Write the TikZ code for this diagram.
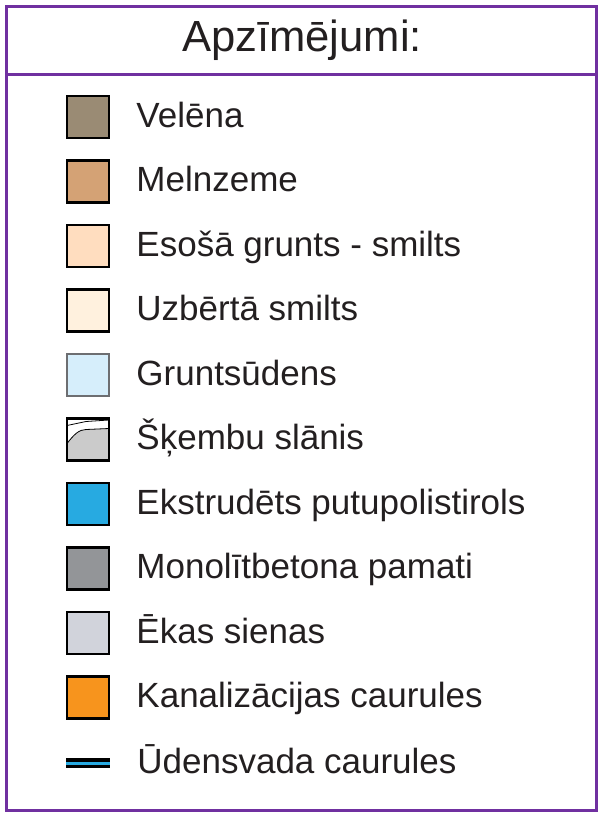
\documentclass[tikz,border=0pt]{standalone}
\usepackage{fontspec}
\setmainfont{Liberation Sans}
\usetikzlibrary{positioning}
\definecolor{framepurple}{HTML}{7030A0}
\definecolor{inkblack}{HTML}{231F20}
\definecolor{velenabrown}{HTML}{9A8B74}
\definecolor{melnzemebrown}{HTML}{D4A275}
\definecolor{gruntspeach}{HTML}{FFDDBF}
\definecolor{smiltscream}{HTML}{FFF1DE}
\definecolor{udenslight}{HTML}{D6EEFB}
\definecolor{udensedge}{HTML}{6D6E71}
\definecolor{skembugray}{HTML}{CBCBCB}
\definecolor{eppsblue}{HTML}{27AAE1}
\definecolor{betonsgray}{HTML}{939598}
\definecolor{sienasgray}{HTML}{D1D3DB}
\definecolor{kanalorange}{HTML}{F7941D}
\definecolor{pipeblue}{HTML}{27AAE1}

\begin{document}
\begin{tikzpicture}[
    x=1pt, y=-1pt,
    every node/.style={text=inkblack},
    swatch/.style={
        fill=#1, draw=black, line width=2.5pt,
        minimum size=42pt, inner sep=0pt
    },
    lbl/.style={
        font=\fontsize{35}{42}\selectfont,
        inner sep=0pt, anchor=base west
    },
    heading/.style={
        font=\fontsize{43.6}{50}\selectfont,
        inner sep=0pt, anchor=base
    },
    frame/.style={draw=framepurple, line width=3pt},
    pipe/.style={
        fill=black, minimum width=44pt, minimum height=10pt,
        inner sep=0pt
    },
]
\useasboundingbox (0,0) rectangle (600,816);

% Frame and title
\coordinate (frameTL) at (6.5,6.5);
\coordinate (frameBR) at (596.5,810);
\coordinate (sepL) at (6.5,74);
\coordinate (sepR) at (596.5,74);
\draw[frame] (frameTL) rectangle (frameBR);
\draw[frame] (sepL) -- (sepR);
\node[heading] (title) at (302,52) {Apzīmējumi:};

% Swatches
\node[swatch=velenabrown] (velena) at (88,117) {};
\node[swatch=melnzemebrown, below=20pt of velena] (melnzeme) {};
\node[swatch=gruntspeach, below=20pt of melnzeme] (grunts) {};
\node[swatch=smiltscream, below=20pt of grunts] (smilts) {};
\node[swatch=udenslight, draw=udensedge, below=20pt of smilts] (udens) {};
\node[swatch=white, below=20pt of udens,
    path picture={
        \fill[skembugray, draw=black, line width=0.8pt]
            ([yshift=-25pt]path picture bounding box.north west)
            .. controls +(7pt,9pt) and +(-7pt,0pt) ..
            ([xshift=19pt,yshift=-11pt]path picture bounding box.north west)
            -- ([yshift=-10pt]path picture bounding box.north east)
            -- (path picture bounding box.south east)
            -- (path picture bounding box.south west) -- cycle;
        \draw[line width=0.8pt]
            ([yshift=-7pt]path picture bounding box.north west)
            -- ([xshift=19pt,yshift=-3pt]path picture bounding box.north west)
            -- ([yshift=-1.5pt]path picture bounding box.north east);
    }] (skembas) {};
\node[swatch=eppsblue, below=20pt of skembas] (epps) {};
\node[swatch=betonsgray, below=20pt of epps] (betons) {};
\node[swatch=sienasgray, below=20pt of betons] (sienas) {};
\node[swatch=kanalorange, below=20pt of sienas] (kanal) {};
\node[pipe, below=38.5pt of kanal] (udensvads) {};
\draw[pipeblue, line width=3pt] (udensvads.west) -- (udensvads.east);

% Labels
\node[lbl] (velenaT) at ([xshift=26pt,yshift=-10pt]velena.east) {Velēna};
\node[lbl] (melnzemeT) at ([xshift=26pt,yshift=-10pt]melnzeme.east) {Melnzeme};
\node[lbl] (gruntsT) at ([xshift=26pt,yshift=-10pt]grunts.east) {Esošā grunts - smilts};
\node[lbl] (smiltsT) at ([xshift=26pt,yshift=-10pt]smilts.east) {Uzbērtā smilts};
\node[lbl] (udensT) at ([xshift=26pt,yshift=-10pt]udens.east) {Gruntsūdens};
\node[lbl] (skembasT) at ([xshift=26pt,yshift=-10pt]skembas.east) {Šķembu slānis};
\node[lbl] (eppsT) at ([xshift=26pt,yshift=-10pt]epps.east) {Ekstrudēts putupolistirols};
\node[lbl] (betonsT) at ([xshift=26pt,yshift=-10pt]betons.east) {Monolītbetona pamati};
\node[lbl] (sienasT) at ([xshift=26pt,yshift=-10pt]sienas.east) {Ēkas sienas};
\node[lbl] (kanalT) at ([xshift=26pt,yshift=-10pt]kanal.east) {Kanalizācijas caurules};
\node[lbl] (udensvadsT) at ([xshift=27pt,yshift=-10pt]udensvads.east) {Ūdensvada caurules};

\end{tikzpicture}
\end{document}
